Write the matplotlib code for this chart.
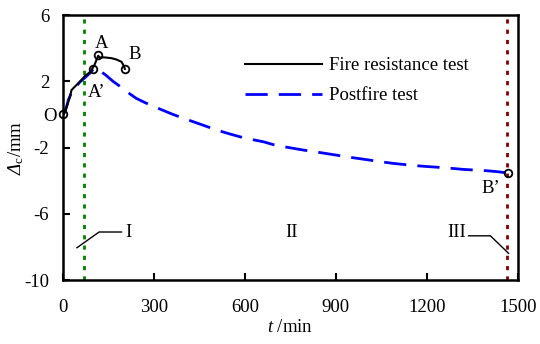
import matplotlib
matplotlib.use("Agg")
import matplotlib.pyplot as plt

# ---- data ----
fire_t = [0, 5, 11, 18, 23, 28, 40, 55, 72, 85, 94, 104, 110, 116, 121, 131, 141, 160, 176, 193, 200, 204]
fire_d = [0.0, 0.1, 0.38, 0.8, 1.07, 1.47, 1.7, 1.97, 2.32, 2.5, 2.68, 3.0, 3.28, 3.55, 3.44, 3.45, 3.44, 3.4, 3.32, 3.18, 2.95, 2.75]

post_t = [0, 6, 12, 18, 24, 30, 42, 55, 68, 80, 92, 100, 108, 116, 128, 141, 165, 198, 220, 242, 270, 297, 330, 363,
          400, 430, 470, 507, 545, 584, 620, 661, 699, 745, 793, 830, 865, 900, 936, 975, 1013, 1050, 1091, 1130,
          1168, 1205, 1244, 1285, 1322, 1360, 1399, 1435, 1468]
post_d = [0.0, 0.15, 0.5, 0.9, 1.15, 1.45, 1.65, 1.95, 2.15, 2.35, 2.55, 2.75, 2.8, 2.72, 2.55, 2.38, 2.0, 1.57, 1.25, 0.97, 0.72, 0.5, 0.25, 0.0,
          -0.25, -0.44, -0.7, -0.94, -1.15, -1.35, -1.5, -1.65, -1.85, -2.0, -2.15, -2.25, -2.35, -2.45, -2.56, -2.66, -2.76, -2.86, -2.96, -3.03,
          -3.1, -3.15, -3.2, -3.26, -3.32, -3.36, -3.4, -3.46, -3.54]

pts_t = [0, 116, 204, 100, 1468]
pts_d = [0.0, 3.62, 2.75, 2.75, -3.54]
pt_labels = ["O", "A", "B", "A\u2019", "B\u2019"]
label_t = [-42, 127, 237, 112, 1412]
label_d = [-0.15, 4.3, 3.6, 1.35, -4.45]

stage_t1 = 68
stage_t2 = 1466
stage_names = ["I", "II", "III"]
stage_label_t = [217, 755, 1300]
stage_label_d = [-7.15, -7.15, -7.15]

xticks = [0, 300, 600, 900, 1200, 1500]
yticks = [6, 2, -2, -6, -10]

plt.rcParams['font.family'] = ['Liberation Serif', 'DejaVu Serif']
plt.rcParams['axes.unicode_minus'] = False
plt.rcParams['mathtext.fontset'] = 'custom'
plt.rcParams['mathtext.rm'] = 'Liberation Serif'
plt.rcParams['mathtext.it'] = 'Liberation Serif:italic'
plt.rcParams['mathtext.sf'] = 'Liberation Serif:italic'

fig = plt.figure(figsize=(5.4, 3.44), dpi=100)
ax = fig.add_axes([0.1167, 0.186, 0.842, 0.770])

ax.axvline(stage_t1, color='#008000', lw=2, ls=(0, (1.5, 2.2)), zorder=1)
ax.axvline(stage_t2, color='#800000', lw=2, ls=(0, (1.5, 2.2)), zorder=1)

ax.plot(post_t, post_d, color='#0000ff', lw=2, dashes=(8, 4), label='Postfire test', zorder=2)
ax.plot(fire_t, fire_d, color='black', lw=1.5, label='Fire resistance test', zorder=3)
ax.plot(pts_t, pts_d, 'o', mfc='none', mec='black', ms=5.5, mew=1.3, zorder=4, clip_on=False)

for s, x, y in zip(pt_labels, label_t, label_d):
    ax.text(x, y, s, fontsize=13.5, ha='center', va='center')

for s, x, y in zip(stage_names, stage_label_t, stage_label_d):
    ax.text(x, y, s, fontsize=13.5, ha='center', va='center')

# leader lines for stage labels
ax.plot([46, 119, 193], [-8.05, -7.1, -7.1], color='black', lw=1)
ax.plot([1338, 1410, 1470], [-7.33, -7.33, -8.39], color='black', lw=1)

ax.set_xlim(0, 1500)
ax.set_ylim(-10, 6)
ax.set_xticks(xticks)
ax.set_yticks(yticks)
ax.tick_params(direction='in', length=5, width=1.5, labelsize=13.5, pad=10)
ax.tick_params(axis='x', pad=14)
for sp in ax.spines.values():
    sp.set_linewidth(1.8)

ax.set_xlabel(r'$t$ /min', fontsize=13.5, labelpad=2)
ax.set_ylabel(r'$\mathsf{\Delta}_{\mathrm{c}}$/mm', fontsize=13.5, labelpad=-1)

leg = ax.legend(handles=[ax.lines[3], ax.lines[2]], loc='upper left',
                bbox_to_anchor=(0.383, 0.87), frameon=False, fontsize=13.5,
                handlelength=4.1, handletextpad=0.4, labelspacing=0.7, borderaxespad=0)

fig.savefig('out.png', dpi=100)
